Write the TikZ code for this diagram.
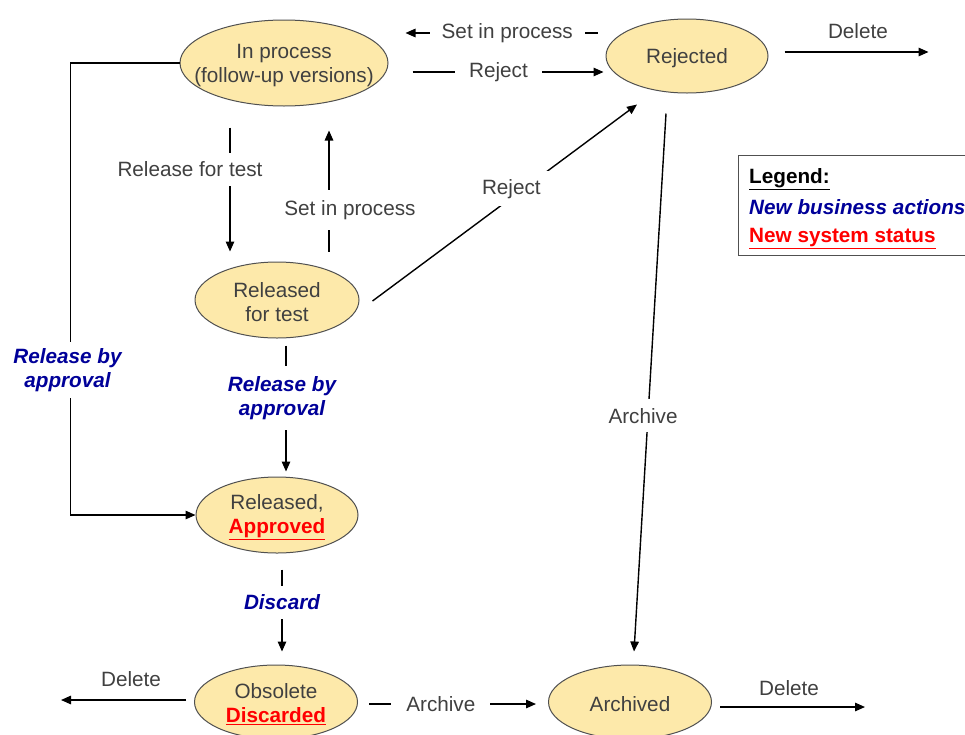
\documentclass[tikz,border=0pt]{standalone}
\usepackage{fontspec}
\setmainfont{Liberation Sans}
\usetikzlibrary{shapes.geometric,arrows.meta,calc}
\definecolor{stfill}{HTML}{FDE9AA}
\definecolor{stline}{HTML}{505050}
\definecolor{txtgray}{HTML}{404040}
\definecolor{bizblue}{HTML}{000099}
\definecolor{sysred}{HTML}{FF0000}
\newcommand{\redul}[1]{{\color{sysred}\bfseries\underline{#1}}}
\begin{document}
\begin{tikzpicture}[x=1pt,y=-1pt,
 state/.style={ellipse,draw=stline,fill=stfill,line width=1pt,inner sep=0pt},
 stxt/.style={align=center,text=txtgray,font=\fontsize{20.7}{24}\selectfont,inner sep=0pt,yshift=-2.5pt},
 arr/.style={line width=1.4pt,-{Triangle[length=10pt,width=8.5pt]}},
 lab/.style={fill=white,text=txtgray,font=\fontsize{20.7}{24}\selectfont,inner xsep=12pt,inner ysep=8pt},
 blab/.style={fill=white,text=bizblue,font=\fontsize{20.7}{24}\selectfont\bfseries\itshape,align=center,inner xsep=4pt,inner ysep=10pt},
 toplab/.style={text=txtgray,font=\fontsize{20.7}{24}\selectfont,inner sep=0pt},
 legtxt/.style={font=\fontsize{20.7}{24}\selectfont\bfseries,inner sep=0pt,anchor=base west}]
\useasboundingbox (0,0) rectangle (965,734);

% states
\node[state,minimum width=208pt,minimum height=86pt] (inp) at (284,63) {};
\node[stxt] at (inp) {In process\\(follow-up versions)};
\node[state,minimum width=162pt,minimum height=74pt] (rej) at (687,56) {};
\node[stxt] at (rej) {Rejected};
\node[state,minimum width=164pt,minimum height=76pt] (rft) at (277,300) {};
\node[stxt] at (rft) {Released\\for test};
\node[state,minimum width=162pt,minimum height=76pt] (rap) at (277,515) {};
\node[stxt] at (rap) {Released,\\\redul{Approved}};
\node[state,minimum width=163pt,minimum height=74pt] (obs) at (276,702) {};
\node[stxt] at (obs) {Obsolete\\\redul{Discarded}};
\node[state,minimum width=163pt,minimum height=74pt] (arc) at (630,702) {};
\node[stxt] at (arc) {Archived};

% legend
\node[draw=stline,line width=1pt,anchor=north west,minimum width=260pt,minimum height=100pt,inner sep=0pt] (leg) at (738,155) {};
\node[legtxt] (leg1) at ($(leg.north west)+(11,28)$) {\underline{Legend:}};
\node[legtxt,text=bizblue] (leg2) at ($(leg.north west)+(11,59)$) {\itshape New business actions};
\node[legtxt] (leg3) at ($(leg.north west)+(11,87)$) {\redul{New system status}};

% connectors
\draw[arr] ($(rej.west)+(-8,-23)$) -- node[lab,pos=0.47]{Set in process} ($(inp.east)+(17,-30)$);
\draw[arr] ($(inp.east)+(24,9)$) -- node[lab,pos=0.45,inner xsep=14pt]{Reject} ($(rej.west)+(-2,16)$);
\draw[arr] ($(rej.east)+(16,-4)$) -- node[toplab,pos=0.51,yshift=21pt]{Delete} ($(rej.east)+(160,-4)$);

\draw[arr] ($(inp.south)+(-54,21)$) -- node[lab,pos=0.336,xshift=-40pt,inner xsep=2pt,inner ysep=9pt]{Release for test} ($(rft.north)+(-47,-10)$);
\draw[arr] ($(rft.north)+(52,-10)$) -- node[lab,pos=0.344,xshift=21pt,inner xsep=2pt,inner ysep=10pt]{Set in process} ($(inp.south)+(45,24)$);
\draw[arr] ($(rft.east)+(13,1)$) -- node[lab,pos=0.525,yshift=9pt,inner xsep=9pt,inner ysep=8pt]{Reject} ($(rej.south)+(-50,11)$);

\draw[arr] ($(rft.south)+(9,7)$) -- node[blab,pos=0.417,xshift=-4pt]{Release by\\approval} ($(rap.north)+(9,-5)$);
\draw[arr] (inp.west) -- ++(-109,0) -- node[blab,pos=0.679,xshift=-3pt,inner ysep=6pt]{Release by\\approval} ++(0,452) -- (rap.west);
\draw[arr] ($(rap.south)+(5,16)$) -- node[blab,pos=0.40,inner ysep=9pt]{Discard} ($(obs.north)+(6,-13)$);

\draw[arr] ($(obs.west)+(-8,-2)$) -- node[toplab,pos=0.44,yshift=21pt]{Delete} ($(obs.west)+(-133,-2)$);
\draw[arr] ($(obs.east)+(11,2)$) -- node[lab,pos=0.43,inner xsep=15pt]{Archive} ($(arc.west)+(-12,2)$);
\draw[arr] ($(rej.south)+(-21,20)$) -- node[lab,pos=0.562,xshift=-5pt,inner xsep=2pt,inner ysep=9pt]{Archive} ($(arc.north)+(4,-13)$);
\draw[arr] ($(arc.east)+(8,5)$) -- node[toplab,pos=0.476,yshift=19pt]{Delete} ($(arc.east)+(153,5)$);
\end{tikzpicture}
\end{document}
